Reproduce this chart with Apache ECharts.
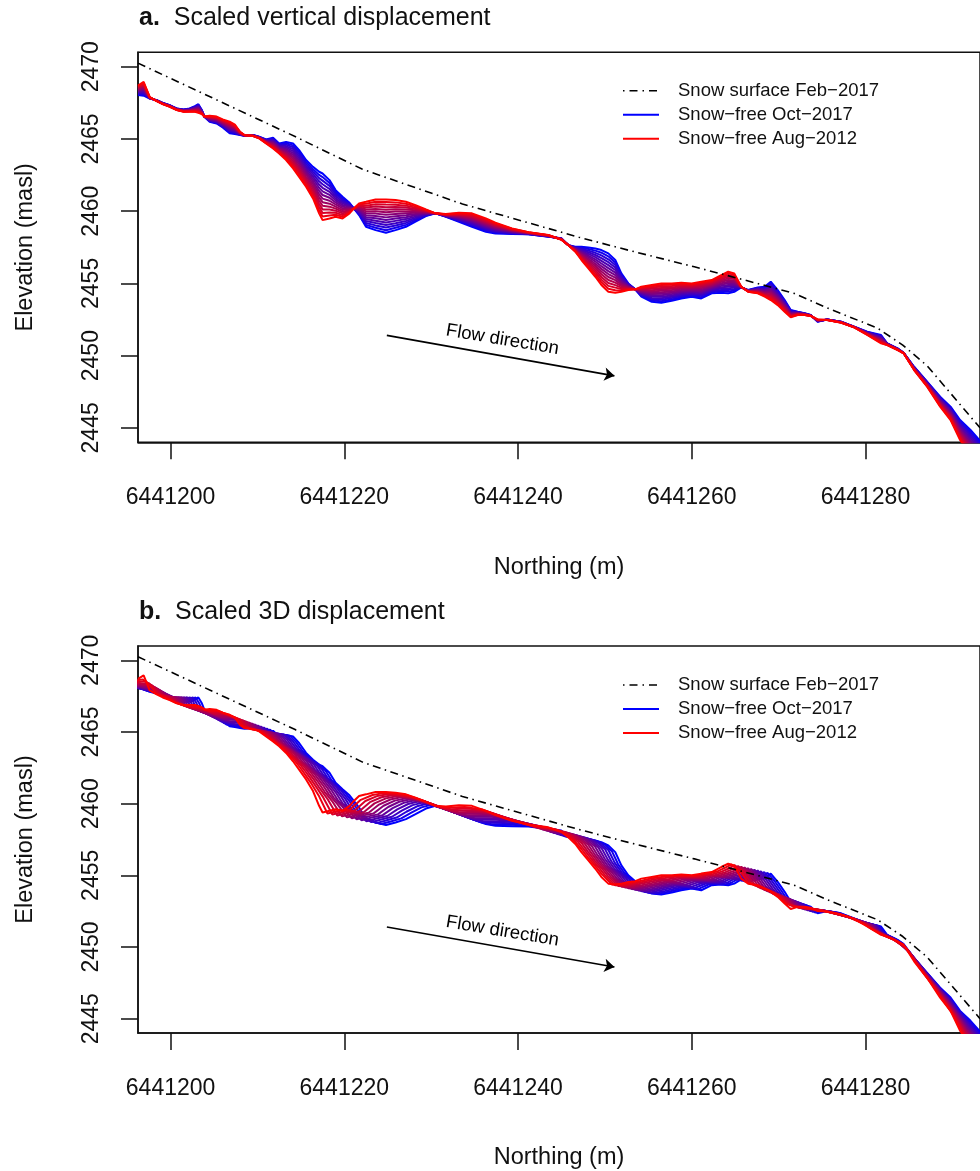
<!DOCTYPE html>
<html><head><meta charset="utf-8">
<script src="https://cdn.jsdelivr.net/npm/echarts@6/dist/echarts.min.js"></script>
<style>html,body{margin:0;padding:0;background:#fff}#chart{width:980px;height:1171px}</style>
</head><body><div id="chart"></div>
<script>
// ---------------- data ----------------
const NORTHING_BASE = 6441200;           // offsets below are metres from this northing
const profileOffset = [-3.75,-3.1,-2.4,-1.6,-0.9,-0.1,0.7,1.5,2.2,2.8,3.2,3.6,3.9,4.5,5.3,6.0,6.8,7.4,8.0,8.5,9.5,10.2,11.0,11.8,12.5,13.3,14.1,14.8,15.6,16.4,17.1,17.5,18.3,19.0,19.8,20.6,21.1,21.7,22.5,23.6,24.8,25.9,27.1,28.2,29.4,30.5,31.7,33.2,34.7,36.3,37.4,39.3,41.2,43.5,45.0,45.8,46.6,47.3,48.1,48.9,49.6,50.4,51.2,51.9,52.7,53.5,54.2,55.4,56.5,57.7,58.8,60.0,61.1,62.3,63.4,64.2,64.9,65.7,66.5,67.6,68.4,69.1,69.9,70.7,71.4,72.2,73.0,73.7,74.5,75.6,77.2,78.7,80.2,81.8,82.5,83.7,84.4,85.6,87.1,88.6,89.8,90.9,92.1,93.5];
// Snow-free surface Aug-2012 (red)
const elevAug2012 = [2468.70,2468.95,2467.90,2467.62,2467.41,2467.23,2467.00,2466.88,2466.88,2466.88,2466.81,2466.72,2466.55,2466.60,2466.55,2466.35,2466.20,2466.00,2465.50,2465.27,2465.20,2465.04,2464.69,2464.34,2464.00,2463.54,2462.96,2462.38,2461.69,2460.88,2459.85,2459.38,2459.50,2459.61,2459.50,2459.85,2460.19,2460.54,2460.65,2460.81,2460.81,2460.77,2460.65,2460.42,2460.12,2459.85,2459.80,2459.89,2459.85,2459.50,2459.20,2458.81,2458.55,2458.35,2458.02,2457.65,2457.19,2456.62,2456.04,2455.46,2454.89,2454.42,2454.36,2454.42,2454.54,2454.59,2454.77,2454.89,2455.00,2455.00,2455.05,2455.00,2455.12,2455.23,2455.58,2455.81,2455.69,2454.77,2454.42,2454.31,2454.08,2453.85,2453.50,2453.04,2452.65,2452.81,2452.81,2452.74,2452.51,2452.46,2452.28,2451.96,2451.43,2450.85,2450.73,2450.39,2450.16,2449.00,2447.85,2446.47,2445.54,2444.16,2443.00,2442.00];
// Snow-free surface Oct-2017 (blue)
const elevOct2017 = [2468.05,2468.00,2467.80,2467.69,2467.50,2467.34,2467.11,2467.04,2467.11,2467.27,2467.41,2467.00,2466.54,2466.19,2466.07,2465.80,2465.40,2465.34,2465.27,2465.22,2465.27,2465.15,2464.97,2465.08,2464.69,2464.80,2464.69,2464.23,2463.54,2463.07,2462.73,2462.61,2462.15,2461.46,2461.00,2460.58,2460.19,2459.73,2458.92,2458.69,2458.51,2458.69,2458.92,2459.27,2459.66,2459.85,2459.61,2459.27,2458.92,2458.58,2458.46,2458.42,2458.40,2458.23,2458.12,2457.65,2457.54,2457.54,2457.49,2457.42,2457.31,2457.08,2456.62,2455.69,2455.00,2454.59,2454.08,2453.73,2453.66,2453.80,2453.96,2454.08,2453.96,2454.31,2454.36,2454.31,2454.42,2454.72,2454.54,2454.72,2454.77,2455.12,2454.54,2453.85,2453.16,2453.04,2452.93,2452.81,2452.35,2452.51,2452.35,2452.00,2451.66,2451.43,2450.85,2450.50,2450.20,2449.23,2448.20,2447.16,2446.47,2445.54,2444.85,2443.90];
// Snow surface Feb-2017 (dash-dot)
const snowOffset = [-3.75,14.4,22.1,33.6,47.0,52.7,60.3,66.1,71.8,75.6,81.4,84.3,87.1,93.19];
const snowElev   = [2470.25,2465.15,2462.9,2460.5,2458.2,2457.3,2456.15,2455.23,2454.31,2453.3,2451.9,2450.73,2449.3,2445.0];
// horizontal part of the 3D displacement (panel b), metres, at Oct-2017 positions
const dispCtrlOffset = [-4,3.2,14.5,20,24.8,30.5,45,52,69.1,76,82,86,94];
const dispCtrlMeters = [4.2,4.2,4.5,6.5,7.3,6.5,5.5,5.0,4.9,3.5,2.2,1.0,0.8];
const N_STEPS = 14;                       // number of scaled profiles per panel
const xTickValues = [6441200,6441220,6441240,6441260,6441280];
const yTickValues = [2445,2450,2455,2460,2465,2470];
const panelLetters = ['a.','b.'];
const panelTitles = ['Scaled vertical displacement','Scaled 3D displacement'];
const legendNames = ['Snow surface Feb\u22122017','Snow\u2212free Oct\u22122017','Snow\u2212free Aug\u22122012'];
const flowFrom = [6441224.9, 2451.4];
const flowTo   = [6441251.1, 2448.6];
const flowLabelAt = [6441238.2, 2451.1];
const flowLabel = 'Flow direction';

// ---------------- helpers ----------------
const FONT = '"Liberation Sans", Arial, Helvetica, sans-serif';
const INK = '#111';
function interp(xs, ys, x){
  if (x <= xs[0]) return ys[0];
  if (x >= xs[xs.length-1]) return ys[ys.length-1];
  for (let i=1;i<xs.length;i++){
    if (x <= xs[i]){ const t=(x-xs[i-1])/(xs[i]-xs[i-1]); return ys[i-1]+t*(ys[i]-ys[i-1]); }
  }
}
function mixColor(f){ // f=0 red (2012) -> f=1 blue (2017)
  const r=Math.round(255*(1-f)), b=Math.round(255*f);
  return 'rgb('+r+',0,'+b+')';
}
function profileData(panel, f){
  if (f===0) return profileOffset.map((x,i)=>[NORTHING_BASE+x, elevAug2012[i]]);
  if (panel===0){
    return profileOffset.map((x,i)=>[NORTHING_BASE+x, elevAug2012[i]+f*(elevOct2017[i]-elevAug2012[i])]);
  }
  return profileOffset.map((x,i)=>{
    const d = interp(dispCtrlOffset, dispCtrlMeters, x);
    const rs = interp(profileOffset, elevAug2012, x-d);
    const g = 1-f;
    return [NORTHING_BASE + x - g*d, elevOct2017[i] + g*(rs-elevOct2017[i])];
  });
}

const grids = [
  {left:138, top:52.3, width:845, height:390},
  {left:138, top:646, width:845, height:391}
];
const xMin = NORTHING_BASE-3.75, xMax = NORTHING_BASE+93.19;
const series = [], xAxes = [], yAxes = [], titles = [], legends = [];
const axisLineStyle = {color:INK, width:1.5};
const legendTops = [80.7, 675];
const titleTops = [6, 600];

for (let p=0;p<2;p++){
  xAxes.push({
    gridIndex:p, type:'value', min:xMin, max:xMax,
    axisLine:{show:true, onZero:false, lineStyle:axisLineStyle},
    axisTick:{show:true, length:17, customValues:xTickValues, lineStyle:axisLineStyle},
    axisLabel:{show:true, customValues:xTickValues, formatter:v=>String(Math.round(v)), fontSize:23, margin:44, color:INK, fontFamily:FONT},
    splitLine:{show:false},
    name:'Northing (m)', nameLocation:'middle', nameGap:113,
    nameTextStyle:{fontSize:23.5, color:INK, fontFamily:FONT}
  });
  yAxes.push({
    gridIndex:p, type:'value', min:2444, max:2471,
    axisLine:{show:true, onZero:false, lineStyle:axisLineStyle},
    axisTick:{show:true, length:17, customValues:yTickValues, lineStyle:axisLineStyle},
    axisLabel:{show:true, customValues:yTickValues, formatter:v=>String(Math.round(v)), rotate:90, fontSize:23, margin:35, color:INK, fontFamily:FONT},
    splitLine:{show:false},
    name:'Elevation (masl)', nameLocation:'middle', nameGap:100,
    nameTextStyle:{fontSize:23.5, color:INK, fontFamily:FONT}
  });
  titles.push({
    left:139, top:titleTops[p], padding:0,
    text:'{b|'+panelLetters[p]+'}  '+panelTitles[p],
    textStyle:{fontSize:25, fontWeight:'normal', color:INK, fontFamily:FONT,
      rich:{b:{fontSize:25, fontWeight:'bold', color:INK, fontFamily:FONT}}}
  });
  legends.push({
    orient:'vertical', left:622, top:legendTops[p], padding:0,
    itemWidth:36, itemHeight:14, itemGap:4, selectedMode:false,
    itemStyle:{opacity:0},
    textStyle:{fontSize:18.5, lineHeight:20, color:INK, fontFamily:FONT, padding:[0,0,0,14]},
    data:[
      {name:legendNames[0], itemStyle:{opacity:0}, lineStyle:{color:'#000', width:1.6, type:[1.5,5,8,5]}},
      {name:legendNames[1], itemStyle:{opacity:0}},
      {name:legendNames[2], itemStyle:{opacity:0}}
    ]
  });
  // profiles: blue drawn first, red last
  for (let j=N_STEPS-1;j>=0;j--){
    const f = j/(N_STEPS-1);
    const name = j===N_STEPS-1 ? legendNames[1] : (j===0 ? legendNames[2] : 'step '+j);
    series.push({
      type:'line', name:name, xAxisIndex:p, yAxisIndex:p,
      data:profileData(p,f), symbol:'none', showSymbol:false, smooth:false,
      lineStyle:{color:mixColor(f), width:2}, itemStyle:{color:mixColor(f)},
      emphasis:{disabled:true}, silent:true, clip:true, z:2
    });
  }
  series.push({
    type:'line', name:legendNames[0], xAxisIndex:p, yAxisIndex:p,
    data:snowOffset.map((x,i)=>[NORTHING_BASE+x, snowElev[i]]), symbol:'none',
    lineStyle:{color:'#000', width:1.6, type:[8,4.5,1.5,4.5]}, itemStyle:{color:'#000'},
    emphasis:{disabled:true}, silent:true, clip:true, z:3
  });
  series.push({
    type:'lines', coordinateSystem:'cartesian2d', xAxisIndex:p, yAxisIndex:p,
    data:[{coords:[flowFrom, flowTo]}], symbol:['none','arrow'], symbolSize:10,
    lineStyle:{color:'#000', width:1.6, opacity:1}, silent:true, z:3
  });
  series.push({
    type:'scatter', xAxisIndex:p, yAxisIndex:p, data:[flowLabelAt], symbolSize:0,
    itemStyle:{opacity:1},
    label:{show:true, position:'inside', formatter:flowLabel, rotate:-9.5, fontSize:18.5, color:'#000', opacity:1, fontFamily:FONT},
    emphasis:{disabled:true}, silent:true, z:3
  });
}

const chart = echarts.init(document.getElementById('chart'), null, {renderer:'canvas'});
chart.setOption({
  animation:false,
  backgroundColor:'#fff',
  title:titles,
  legend:legends,
  grid:grids.map(g=>Object.assign({show:true, borderColor:INK, borderWidth:1.5, backgroundColor:'transparent'}, g)),
  xAxis:xAxes, yAxis:yAxes,
  series:series
});
</script></body></html>
